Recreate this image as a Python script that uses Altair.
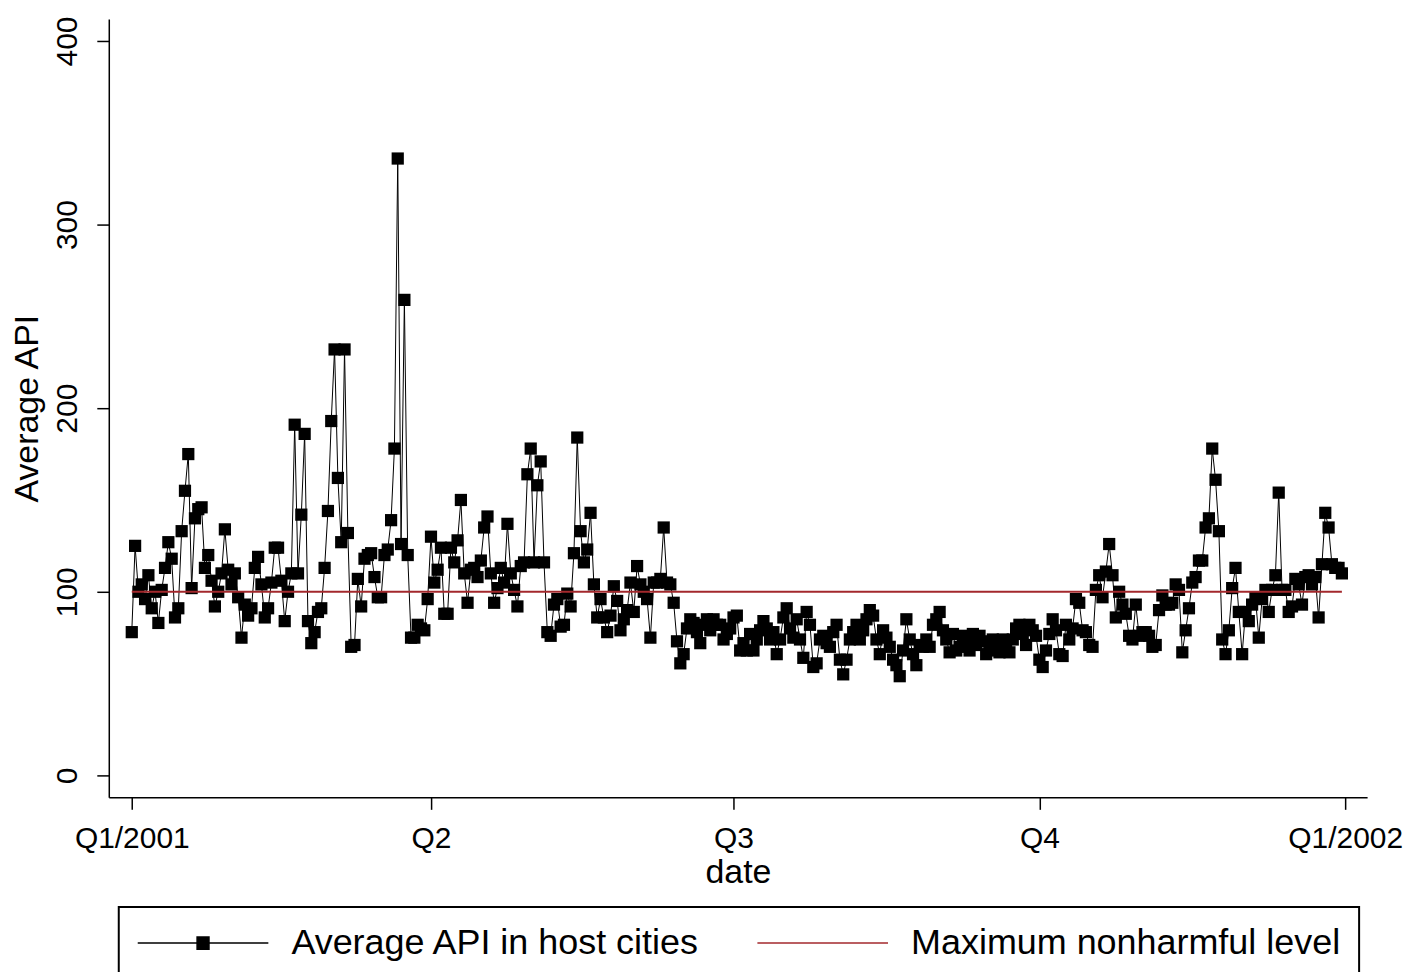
import altair as alt
import pandas as pd

SERIES_API = "Average API in host cities"
SERIES_MAX = "Maximum nonharmful level"
RED = "#a3282c"
FONT = "Liberation Sans"

# Daily values, one list per quarter
q1_start = "2001-01-01"
q1_values = [
    78, 125, 100, 104, 96, 109, 91, 100, 83, 101,
    113, 127, 118, 86, 91, 133, 155, 175, 102, 140,
    145, 146, 113, 120, 106, 92, 100, 110, 134, 112,
    104, 110, 97, 75, 93, 87, 91, 113, 119, 104,
    86, 91, 105, 124, 124, 106, 84, 100, 110, 191,
    110, 142, 186, 84, 72, 78, 89, 91, 113, 144,
    193, 232, 162, 127, 232, 132, 70, 71, 107, 92,
    118, 120, 121, 108, 97, 97, 120, 123, 139, 178,
    336, 126, 259, 120, 75, 75, 82, 80, 79, 96,
]
q2_start = "2001-04-01"
q2_values = [
    130, 105, 112, 124, 88, 88, 124, 116, 128, 150,
    110, 94, 112, 113, 108, 117, 135, 141, 110, 94,
    102, 113, 105, 137, 110, 101, 92, 114, 116, 164,
    178, 116, 158, 171, 116, 78, 76, 93, 96, 81,
    82, 99, 92, 121, 184, 133, 116, 123, 143, 104,
    86, 96, 86, 78, 87, 103, 95, 79, 85, 90,
    105, 89, 114, 104, 100, 96, 75, 105, 105, 107,
    135, 105, 104, 94, 73, 61, 66, 80, 85, 83,
    78, 72, 82, 85, 79, 85, 82, 82, 74, 77,
    80,
]
q3_start = "2001-07-01"
q3_values = [
    86, 87, 68, 72, 68, 77, 68, 74, 79, 84,
    80, 74, 78, 66, 74, 86, 91, 80, 75, 85,
    74, 64, 89, 82, 59, 61, 74, 76, 72, 70,
    78, 82, 63, 55, 63, 74, 78, 82, 74, 79,
    85, 90, 87, 74, 66, 79, 75, 70, 63, 60,
    54, 68, 85, 74, 66, 60, 71, 70, 74, 70,
    82, 85, 89, 79, 74, 67, 77, 68, 70, 76,
    71, 68, 77, 71, 76, 73, 66, 68, 74, 71,
    67, 74, 68, 67, 74, 80, 82, 77, 71, 82,
    79, 76,
]
q4_start = "2001-10-01"
q4_values = [
    63, 59, 68, 77, 85, 79, 66, 65, 82, 74,
    80, 96, 94, 79, 78, 71, 70, 101, 109, 97,
    111, 126, 109, 86, 100, 93, 88, 76, 74, 93,
    76, 78, 78, 76, 70, 71, 90, 98, 93, 93,
    94, 104, 101, 67, 79, 91, 105, 108, 117, 117,
    135, 140, 178, 161, 133, 74, 66, 79, 102, 113,
    89, 66, 89, 84, 93, 97, 75, 96, 101, 89,
    101, 109, 154, 101, 101, 89, 92, 107, 104, 93,
    108, 109, 104, 108, 86, 115, 143, 135, 115, 113,
    113, 110,
]

threshold_dates = ["2001-01-01", "2001-12-31"]
threshold_values = [100, 100]

x_tick_dates = [(2001, 1), (2001, 4), (2001, 7), (2001, 10), (2002, 1)]
y_ticks = [0, 100, 200, 300, 400]

# Build tables
frames = []
for start, vals in [(q1_start, q1_values), (q2_start, q2_values),
                    (q3_start, q3_values), (q4_start, q4_values)]:
    d = pd.date_range(start, periods=len(vals), freq="D")
    frames.append(pd.DataFrame({"date": d.strftime("%Y-%m-%d"), "api": vals}))
api_df = pd.concat(frames, ignore_index=True)
thr_df = pd.DataFrame({"date": threshold_dates, "api": threshold_values})
legend_df = pd.DataFrame({"series": [SERIES_API, SERIES_MAX]})

PATH_API = "M-1,0L6.7,0M2.5,-0.36L3.2,-0.36L3.2,0.36L2.5,0.36Z"
PATH_MAX = "M-1,0L6.7,0"

x_scale = alt.Scale(
    type="utc",
    domain=[alt.DateTime(year=2000, month=12, date=25, hours=2, utc=True),
            alt.DateTime(year=2002, month=1, date=7, hours=14, utc=True)],
)
y_scale = alt.Scale(domain=[-12, 412], nice=False, zero=False)

x_axis = alt.Axis(
    values=[alt.DateTime(year=y, month=m, date=1, utc=True) for y, m in x_tick_dates],
    labelExpr="utcmonth(datum.value) == 0 ? 'Q1/' + utcyear(datum.value) : 'Q' + (floor(utcmonth(datum.value) / 3) + 1)",
    labelFlush=False,
    labelPadding=14,
    title="date",
    titlePadding=2,
)
y_axis = alt.Axis(
    values=y_ticks,
    labelAngle=270,
    labelPadding=14,
    title="Average API",
    titlePadding=8,
)

line = alt.Chart(api_df).mark_line(color="black", strokeWidth=1).encode(
    x=alt.X("date:T", scale=x_scale, axis=x_axis),
    y=alt.Y("api:Q", scale=y_scale, axis=y_axis),
)
points = alt.Chart(api_df).mark_point(
    shape="square", filled=True, color="black", size=150, opacity=1
).encode(x="date:T", y="api:Q")
thr = alt.Chart(thr_df).mark_line(color=RED, strokeWidth=2).encode(
    x="date:T", y="api:Q"
)

dom = [SERIES_API, SERIES_MAX]
legend_layer = alt.Chart(legend_df).mark_point(filled=True, opacity=1).encode(
    fill=alt.Fill("series:N", scale=alt.Scale(domain=dom, range=["black", RED]), title=None),
    stroke=alt.Stroke("series:N", scale=alt.Scale(domain=dom, range=["black", RED]), title=None),
    shape=alt.Shape("series:N", scale=alt.Scale(domain=dom, range=[PATH_API, PATH_MAX]), title=None),
    size=alt.value(0),
)

chart = (
    alt.layer(line, points, thr, legend_layer)
    .properties(width=1261, height=780,
                padding={"left": 3, "top": 7, "right": 10, "bottom": 0})
    .configure_view(strokeWidth=0)
    .configure_axis(
        domainColor="black", domainWidth=1.5, tickColor="black", tickWidth=1.5,
        tickSize=12, grid=False, labelFont=FONT, labelFontSize=30, labelColor="black",
        titleFont=FONT, titleFontSize=34, titleFontWeight="normal", titleColor="black",
    )
    .configure_legend(
        orient="none", legendX=10, legendY=890, direction="horizontal",
        strokeColor="black", strokeWidth=2,
        padding=18, labelFont=FONT, labelFontSize=36, labelColor="black",
        labelLimit=900, columnPadding=54, symbolSize=1156, symbolStrokeWidth=1.5,
        labelOffset=119,
    )
)

chart.save("out.html", embed_options={"renderer": "svg", "actions": False})
